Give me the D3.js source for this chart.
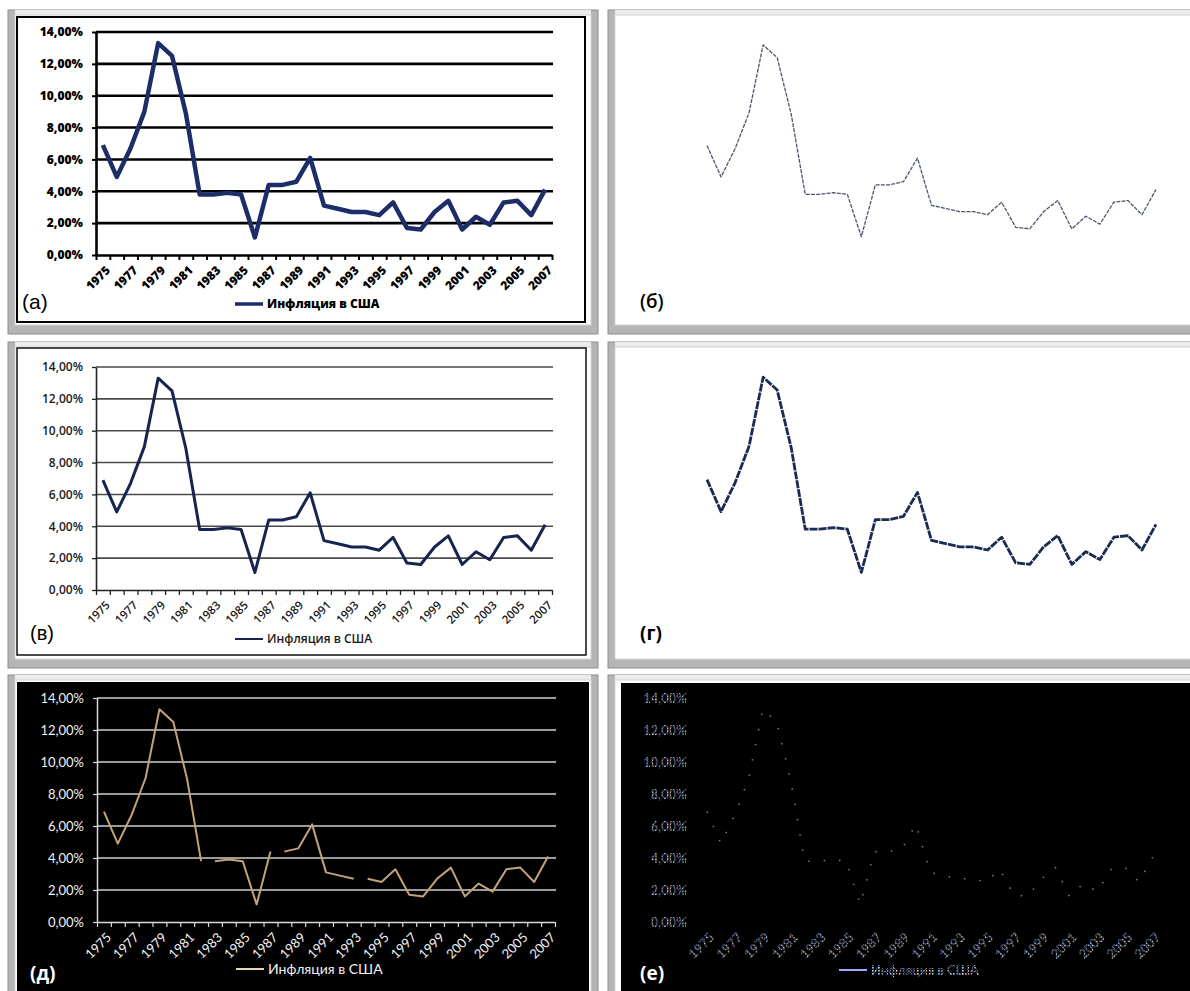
<!DOCTYPE html>
<html>
<head>
<meta charset="utf-8">
<script src="https://cdn.jsdelivr.net/npm/d3@7"></script>
<style>
  body { margin: 0; background: #fff; }
  svg { display: block; }
</style>
</head>
<body>
<script>
// US inflation, Dec-to-Dec, in percent
const years = [1975, 1976, 1977, 1978, 1979, 1980, 1981, 1982, 1983, 1984, 1985,
  1986, 1987, 1988, 1989, 1990, 1991, 1992, 1993, 1994, 1995, 1996, 1997, 1998,
  1999, 2000, 2001, 2002, 2003, 2004, 2005, 2006, 2007];
const inflation = [6.9, 4.9, 6.7, 9.0, 13.3, 12.5, 8.9, 3.8, 3.8, 3.9, 3.8,
  1.1, 4.4, 4.4, 4.6, 6.1, 3.1, 2.9, 2.7, 2.7, 2.5, 3.3, 1.7, 1.6,
  2.7, 3.4, 1.6, 2.4, 1.9, 3.3, 3.4, 2.5, 4.1];
const yTicks = [0, 2, 4, 6, 8, 10, 12, 14];
const xLabelYears = [1975, 1977, 1979, 1981, 1983, 1985, 1987, 1989, 1991,
  1993, 1995, 1997, 1999, 2001, 2003, 2005, 2007];
const gapAfter = [1982, 1987, 1993];   // places where panel (д) line is broken
const seriesName = "Инфляция в США";
const panelNames = ["(а)", "(б)", "(в)", "(г)", "(д)", "(е)"];

const W = 1190, H = 991;
const svg = d3.select("body").append("svg").attr("width", W).attr("height", H);

// speckled fill for the almost-erased panel (е)
const defs = svg.append("defs");
const speck = defs.append("pattern").attr("id", "speck")
  .attr("patternUnits", "userSpaceOnUse").attr("width", 3).attr("height", 3);
speck.append("rect").attr("width", 1.6).attr("height", 1.6).attr("fill", "#f2f5ff");
speck.append("rect").attr("x", 1.7).attr("y", 1.7).attr("width", 1.1).attr("height", 1.1).attr("fill", "#7f8ff0");

const locale = d3.formatLocale({decimal: ",", thousands: " ", grouping: [3], currency: ["", ""]});
const pct = v => locale.format(".2%")(v / 100);

// window-like grey frame round each picture
function frame(x, y, w, h) {
  const g = svg.append("g");
  g.append("rect").attr("x", x).attr("y", y).attr("width", w).attr("height", h)
    .attr("fill", "#b5b5b5").attr("stroke", "#8e8e8e");
  g.append("rect").attr("x", x + 7).attr("y", y).attr("width", w - 14).attr("height", 5)
    .attr("fill", "#ececec");
  g.append("rect").attr("x", x + 7).attr("y", y + 5).attr("width", w - 14).attr("height", h - 14)
    .attr("fill", "#fff").attr("stroke", "#d4d4d4");
}

function chart(o) {
  const g = svg.append("g");
  const x = d3.scaleBand().domain(years).range([o.x0, o.x1]);
  const xb = d3.scaleLinear().domain([0, years.length]).range([o.x0, o.x1]);
  const y = d3.scaleLinear().domain([0, 14]).range([o.yB, o.yT]);
  const cx = yr => x(yr) + x.bandwidth() / 2;

  if (o.grid) {
    g.append("g").selectAll("line").data(yTicks.filter(v => v > 0)).join("line")
      .attr("x1", o.x0).attr("x2", o.x1 + 1)
      .attr("y1", d => y(d)).attr("y2", d => y(d))
      .attr("stroke", o.grid).attr("stroke-width", o.gridW);
  }

  if (o.text) {
    const ya = g.append("g").attr("transform", `translate(${o.x0},0)`)
      .call(d3.axisLeft(y).tickValues(yTicks).tickFormat(pct).tickSize(4).tickSizeOuter(0).tickPadding(9));
    ya.selectAll("text").attr("font-family", o.font).attr("font-weight", o.weight)
      .attr("font-size", o.ySize).attr("fill", o.textFill);

    const xa = g.append("g").attr("transform", `translate(0,${o.yB})`)
      .call(d3.axisBottom(xb).tickValues(d3.range(years.length + 1)).tickFormat("").tickSize(5).tickSizeOuter(0));

    [ya, xa].forEach(a => {
      a.selectAll("line").attr("stroke", o.axis || "none").attr("stroke-width", o.tickW);
      a.select(".domain").attr("stroke", o.axis || "none").attr("stroke-width", o.axisW);
    });

    const xl = g.append("g").attr("transform", `translate(0,${o.yB})`)
      .call(d3.axisBottom(x).tickValues(xLabelYears).tickSize(0));
    xl.select(".domain").remove();
    xl.selectAll("text")
      .attr("y", 0).attr("dy", "0.35em")
      .attr("transform", "translate(5,13) rotate(-45)")
      .attr("text-anchor", "end")
      .attr("font-family", o.font).attr("font-weight", o.weight)
      .attr("font-size", o.xSize).attr("fill", o.textFill);

    // legend
    const lg = g.append("g").attr("transform", `translate(${o.x0 + 139},${o.legY})`);
    lg.append("line").attr("x1", 0).attr("x2", 28)
      .attr("stroke", o.legLine || o.lineColor).attr("stroke-width", o.legW);
    lg.append("text").attr("x", 32).attr("dy", "0.35em").text(seriesName)
      .attr("font-family", o.font).attr("font-weight", o.weight)
      .attr("font-size", o.legSize).attr("fill", o.textFill);
  }

  // series, split where the picture shows gaps
  const segs = [];
  let cur = [];
  years.forEach((yr, i) => {
    cur.push(i);
    if (o.breaks && o.breaks.includes(yr)) { segs.push(cur); cur = []; }
  });
  segs.push(cur);
  const line = d3.line().x(i => cx(years[i])).y(i => y(inflation[i]));
  g.append("g").selectAll("path").data(segs).join("path")
    .attr("d", line)
    .attr("fill", "none")
    .attr("stroke", o.lineColor)
    .attr("stroke-width", o.lineW)
    .attr("stroke-linejoin", "round")
    .attr("stroke-dasharray", o.dash || null)
    .attr("opacity", o.lineOpacity || 1);
}

function label(i, x, y, o) {
  svg.append("text").attr("x", x).attr("y", y).text(panelNames[i])
    .attr("font-family", o.font).attr("font-weight", o.weight)
    .attr("font-size", o.size || 19).attr("fill", o.fill);
}

// frames
frame(8, 10, 590, 324);
frame(608, 10, 600, 324);
frame(8, 342, 590, 326);
frame(608, 342, 600, 326);
frame(8, 675, 590, 340);
frame(608, 675, 600, 340);

// inner chart areas
svg.append("rect").attr("x", 17).attr("y", 17).attr("width", 568).attr("height", 305)
  .attr("fill", "none").attr("stroke", "#000").attr("stroke-width", 2);
svg.append("rect").attr("x", 17).attr("y", 348).attr("width", 569).attr("height", 307)
  .attr("fill", "none").attr("stroke", "#111").attr("stroke-width", 1.5);
svg.append("rect").attr("x", 17).attr("y", 682).attr("width", 572).attr("height", 320).attr("fill", "#000");
svg.append("rect").attr("x", 621).attr("y", 683).attr("width", 580).attr("height", 320).attr("fill", "#000");

// (а) bold original
chart({x0: 96, x1: 552, yT: 32, yB: 255, grid: "#000", gridW: 2.6, axis: "#000", axisW: 2.6, tickW: 2,
  text: true, font: "Open Sans", weight: 800, ySize: 12, xSize: 12, legSize: 12, textFill: "#000",
  legY: 304, legW: 3.5, lineColor: "#1d2d68", lineW: 4.5});
// (б) line only, thin
chart({x0: 700, x1: 1163, yT: 34, yB: 254, lineColor: "#38425e", lineW: 1.3, dash: "4 1.2", lineOpacity: 0.9});
// (в) normal
chart({x0: 96, x1: 552, yT: 367, yB: 590, grid: "#4a4a4a", gridW: 1.6, axis: "#222", axisW: 1.6, tickW: 1.3,
  text: true, font: "Open Sans", weight: 600, ySize: 12, xSize: 11.5, legSize: 12, textFill: "#1a1a1a",
  legY: 639, legW: 2, lineColor: "#16244f", lineW: 3});
// (г) line only, thicker
chart({x0: 700, x1: 1163, yT: 366, yB: 590, lineColor: "#1b2a52", lineW: 2.8, dash: "8 1"});
// (д) inverted
chart({x0: 97, x1: 555, yT: 698, yB: 922, grid: "#cfcfcf", gridW: 1.5, axis: "#d8d8d8", axisW: 1.5, tickW: 1.2,
  text: true, font: "Lato", weight: 400, ySize: 13, xSize: 13, legSize: 14, textFill: "#f2f2f2",
  legY: 969, legW: 2, legLine: "#e6d6b4", lineColor: "#c4a27a", lineW: 2, breaks: gapAfter});
// (е) nearly erased
chart({x0: 700, x1: 1160, yT: 698, yB: 922,
  text: true, font: "Lato", weight: 700, ySize: 13, xSize: 13, legSize: 13, textFill: "url(#speck)",
  legY: 970, legW: 2, legLine: "#9aa8ff", lineColor: "#d8c488", lineW: 1.6, dash: "1.5 14", lineOpacity: 0.6});

label(0, 22, 309, {font: "Liberation Sans", weight: 400, fill: "#000", size: 21});
label(1, 640, 308, {font: "Open Sans", weight: 600, fill: "#000"});
label(2, 30, 640, {font: "Liberation Sans", weight: 400, fill: "#000", size: 20});
label(3, 640, 640, {font: "Open Sans", weight: 700, fill: "#000"});
label(4, 30, 980, {font: "Open Sans", weight: 700, fill: "#fff"});
label(5, 640, 980, {font: "Open Sans", weight: 700, fill: "#fff"});
</script>
</body>
</html>
